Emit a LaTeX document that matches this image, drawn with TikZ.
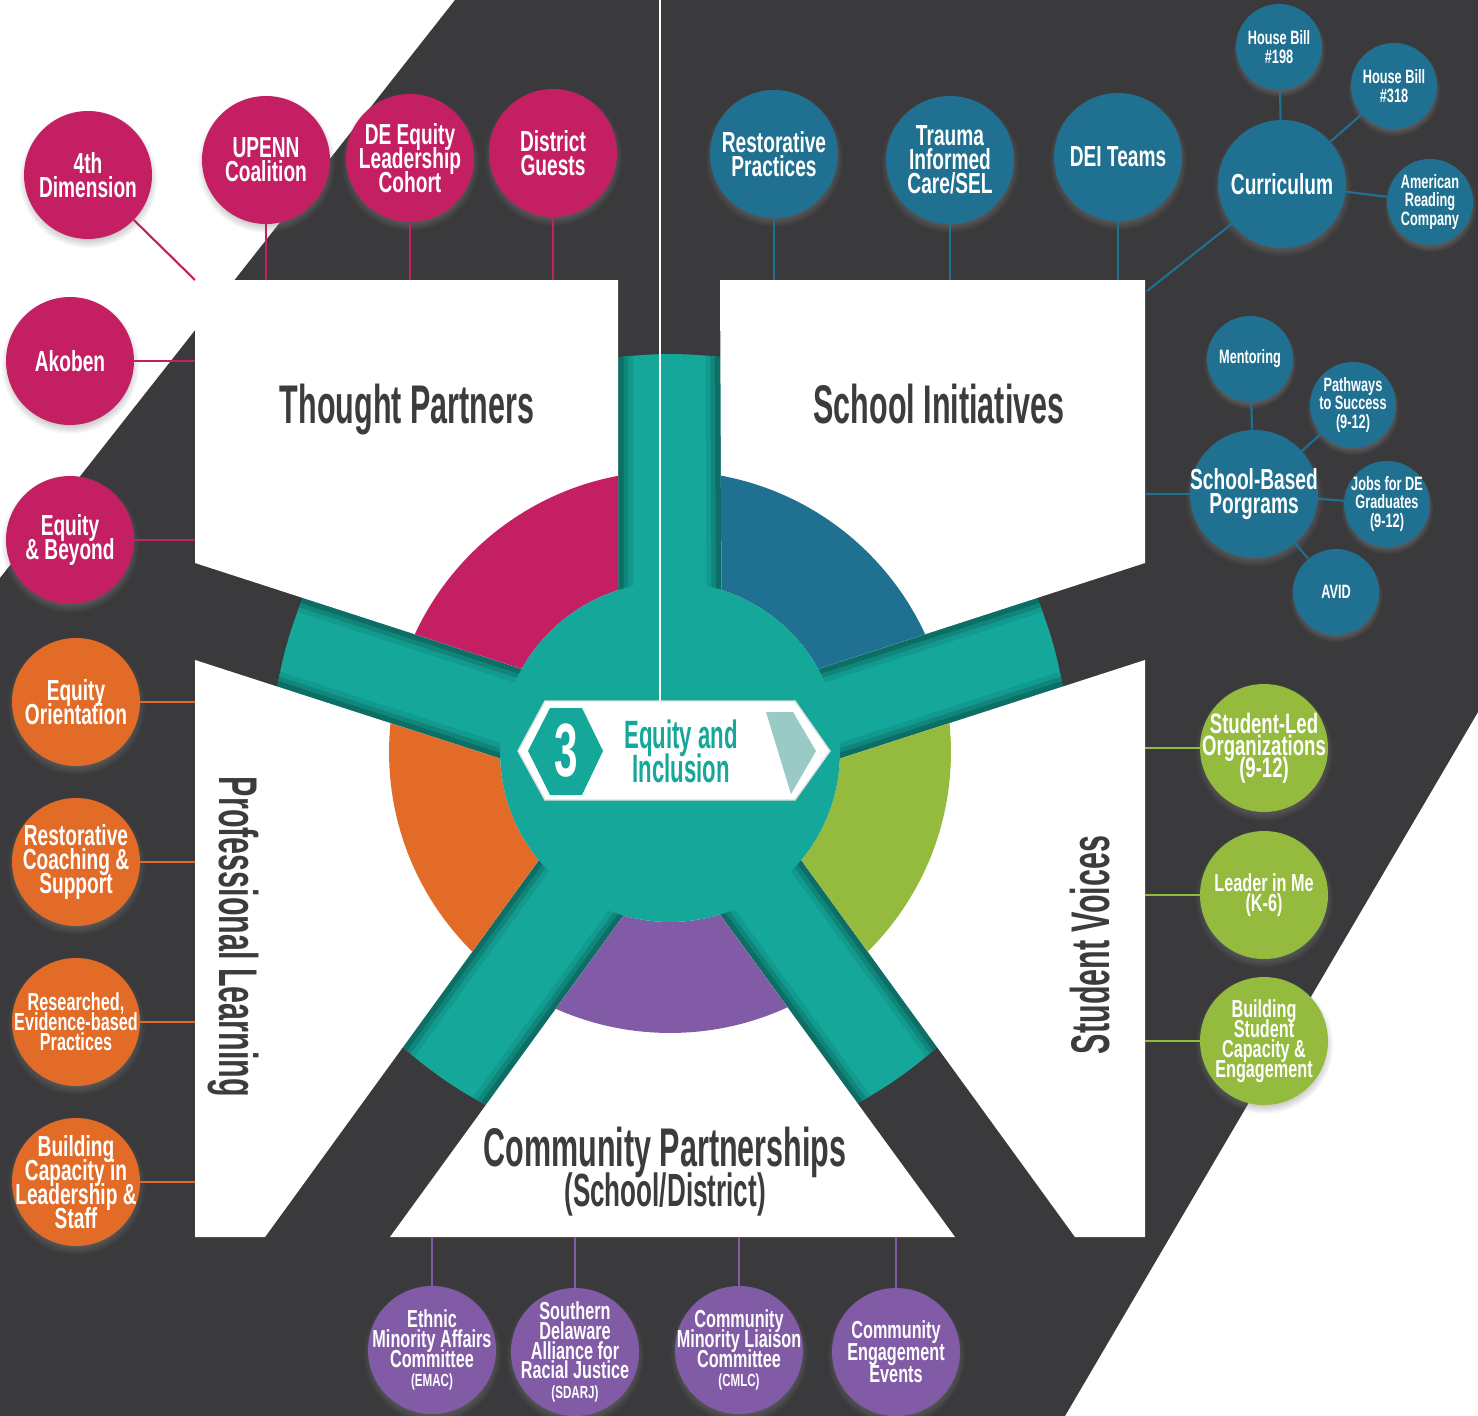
\documentclass[tikz,border=0pt]{standalone}
\usepackage{fontspec}
\newfontfamily\condA{Liberation Sans}[FakeStretch=0.66]
\newfontfamily\condB{Liberation Sans}[FakeStretch=0.56]
\newcommand\bubfont[2]{\condA\bfseries\fontsize{#1}{#2}\selectfont\lineskiplimit=-100pt}
\newcommand\headfont[2]{\condB\bfseries\fontsize{#1}{#2}\selectfont\lineskiplimit=-100pt}
\usetikzlibrary{shadows}
\definecolor{bgdark}{RGB}{58,58,60}
\definecolor{tpink}{RGB}{197,31,99}
\definecolor{tblue}{RGB}{31,112,145}
\definecolor{torange}{RGB}{226,107,39}
\definecolor{tgreen}{RGB}{148,186,62}
\definecolor{tpurple}{RGB}{130,91,166}
\definecolor{tteal}{RGB}{20,167,154}
\definecolor{paleteal}{RGB}{153,202,198}
\definecolor{txtgray}{RGB}{60,60,62}
\begin{document}
\begin{tikzpicture}
  [x=0.02cm,y=-0.02cm,
   bub/.style={circle,fill=#1,minimum size=2.56cm,inner sep=0pt,
     circular drop shadow={shadow xshift=0pt,shadow yshift=-2pt,shadow scale=1.08,opacity=.45}},
   sbub/.style={bub=#1,minimum size=1.72cm},
   btxt/.style={text=white,align=center,inner sep=0pt,font=\bubfont{16.5}{13.6}},
   mtxt/.style={btxt,font=\bubfont{14}{11.3}},
   stxt/.style={btxt,font=\bubfont{11}{10.6}},
   link/.style={draw=#1,line width=1.2pt},
   ptitle/.style={text=txtgray,inner sep=0pt,font=\headfont{31}{31}}]
  \useasboundingbox (0,0) rectangle (1478,1416);
  \fill[white] (0,0) rectangle (1478,1416);
  \fill[bgdark] (455,0) -- (1478,0) -- (1478,712) -- (1065,1416) -- (0,1416) -- (0,578) -- cycle;

  % wheel
  \coordinate (hub) at (670,752);
  \coordinate (tpNW) at (195,280);
  \coordinate (siNW) at (720,280);
  \coordinate (siNE) at (1145,280);
  \coordinate (plNW) at (195,660);
  \coordinate (svNE) at (1145,660);
  \coordinate (cpSW) at (390,1237);
  \coordinate (currlink) at (1147,291);
  \fill[tteal] (hub) circle (7.96cm);
  \foreach \shape/\col in {{(195,280) -- (618,280) -- (618,700) -- (195,563)}/tpink,
      {(720,280) -- (1145,280) -- (1145,563) -- (722,700)}/tblue,
      {(195,660) -- (591,788) -- (265,1237) -- (195,1237)}/torange,
      {(1145,660) -- (749,788) -- (1075,1237) -- (1145,1237)}/tgreen,
      {(390,1237) -- (672,849) -- (955,1237)}/tpurple}
  {
    \begin{scope}
      \clip (hub) circle (7.96cm);
      \foreach \lw/\c in {30/92,20/80,11/66}
        \draw[line width=\lw*0.02cm,tteal!\c!black] \shape -- cycle;
    \end{scope}
    \fill[white] \shape -- cycle;
    \begin{scope}
      \clip \shape -- cycle;
      \fill[\col,even odd rule] (hub) circle (5.62cm) (hub) circle (3.4cm);
    \end{scope}
  }
  \fill[tteal] (hub) circle (3.4cm);
  \draw[white,line width=1.2pt] (660,0) -- (660,701);

  % banner
  \fill[white,draw=black!12,line width=.8pt] (518,751) -- (545,701) -- (795,701) -- (830,751) -- (795,800) -- (545,800) -- cycle;
  \fill[tteal] (528,751) -- (550,708) -- (582,708) -- (603,751) -- (582,795) -- (550,795) -- cycle;
  \fill[paleteal] (766,712) -- (793,712) -- (816,751) -- (791,794) -- cycle;
  \node[text=white,font=\headfont{43}{43}] (three) at (566,751) {3};
  \node[text=tteal,align=center,font=\headfont{22.5}{19.5}] (eqinc) at (681,751) {Equity and\\Inclusion};

  % panel titles
  \node[ptitle,anchor=base] (tptitle) at (407,423) {Thought Partners};
  \node[ptitle,anchor=base] (sititle) at (939,423) {School Initiatives};
  \node[ptitle,rotate=-90] (pltitle) at (233,937) {Professional Learning};
  \node[ptitle,rotate=90] (svtitle) at (1090,945) {Student Voices};
  \node[ptitle,anchor=base] (cptitle) at (665,1166) {Community Partnerships};
  \node[ptitle,anchor=base,font=\headfont{26.5}{26.5}] (cpsub) at (665,1206) {(School/District)};

  % thought partners
  \node[bub=tpink,label={[btxt]center:{4th\\Dimension}}] (dim4) at (88,175) {};
  \node[bub=tpink,label={[btxt]center:{UPENN\\Coalition}}] (upenn) at (266,160) {};
  \node[bub=tpink,label={[btxt]center:{DE Equity\\Leadership\\Cohort}}] (deelc) at (410,158) {};
  \node[bub=tpink,label={[btxt]center:{District\\Guests}}] (guests) at (553,153) {};
  \node[bub=tpink,label={[btxt]center:{Akoben}}] (akoben) at (70,361) {};
  \node[bub=tpink,label={[btxt]center:{Equity\\\& Beyond}}] (beyond) at (70,540) {};

  % school initiatives
  \node[bub=tblue,label={[btxt]center:{Restorative\\Practices}}] (restpr) at (774,154) {};
  \node[bub=tblue,label={[btxt]center:{Trauma\\Informed\\Care/SEL}}] (trauma) at (950,160) {};
  \node[bub=tblue,label={[btxt]center:{DEI Teams}}] (deiteams) at (1118,157) {};
  \node[bub=tblue,label={[btxt]center:{Curriculum}}] (curric) at (1282,184) {};
  \node[sbub=tblue,label={[stxt]center:{House Bill\\\#198}}] (hb198) at (1279,47) {};
  \node[sbub=tblue,label={[stxt]center:{House Bill\\\#318}}] (hb318) at (1394,86) {};
  \node[sbub=tblue,label={[stxt]center:{American\\Reading\\Company}}] (arc) at (1430,202) {};
  \node[bub=tblue,label={[btxt]center:{School-Based\\Porgrams}}] (sbp) at (1254,494) {};
  \node[sbub=tblue,label={[stxt]center:{Mentoring}}] (mentor) at (1250,359) {};
  \node[sbub=tblue,label={[stxt]center:{Pathways\\to Success\\(9-12)}}] (pathw) at (1353,405) {};
  \node[sbub=tblue,label={[stxt]center:{Jobs for DE\\Graduates\\(9-12)}}] (jobs) at (1387,504) {};
  \node[sbub=tblue,label={[stxt]center:{AVID}}] (avid) at (1336,592) {};

  % professional learning
  \node[bub=torange,label={[btxt]center:{Equity\\Orientation}}] (eqorient) at (76,702) {};
  \node[bub=torange,label={[btxt]center:{Restorative\\Coaching \&\\Support}}] (coaching) at (76,862) {};
  \node[bub=torange,label={[mtxt]center:{Researched,\\Evidence-based\\Practices}}] (research) at (76,1022) {};
  \node[bub=torange,label={[btxt]center:{Building\\Capacity in\\Leadership \&\\Staff}}] (capacity) at (76,1182) {};

  % student voices
  \node[bub=tgreen,label={[btxt,font=\bubfont{16}{12.6}]center:{Student-Led\\Organizations\\(9-12)}}] (stled) at (1264,748) {};
  \node[bub=tgreen,label={[mtxt]center:{Leader in Me\\(K-6)}}] (leader) at (1264,895) {};
  \node[bub=tgreen,label={[mtxt]center:{Building\\Student\\Capacity \&\\Engagement}}] (stcap) at (1264,1041) {};

  % community partnerships
  \node[bub=tpurple,label={[mtxt]center:{Ethnic\\Minority Affairs\\Committee\\{\fontsize{10}{10}\selectfont(EMAC)}}}] (emac) at (432,1350) {};
  \node[bub=tpurple,label={[mtxt]center:{Southern\\Delaware\\Alliance for\\Racial Justice\\{\fontsize{10}{10}\selectfont(SDARJ)}}}] (sdarj) at (575,1352) {};
  \node[bub=tpurple,label={[mtxt]center:{Community\\Minority Liaison\\Committee\\{\fontsize{10}{10}\selectfont(CMLC)}}}] (cmlc) at (739,1350) {};
  \node[bub=tpurple,label={[mtxt,font=\bubfont{14}{12.5}]center:{Community\\Engagement\\Events}}] (events) at (896,1352) {};

  \foreach \from/\to in {dim4/tpNW,upenn/upenn |- tpNW,deelc/deelc |- tpNW,guests/guests |- tpNW,
      akoben/akoben -| tpNW,beyond/beyond -| tpNW}
    \draw[link=tpink] (\from) -- (\to);
  \foreach \from/\to in {restpr/restpr |- siNW,trauma/trauma |- siNW,deiteams/deiteams |- siNW,
      curric/currlink,hb198/curric,hb318/curric,arc/curric,
      sbp/sbp -| siNE,mentor/sbp,pathw/sbp,jobs/sbp,avid/sbp}
    \draw[link=tblue] (\from) -- (\to);
  \foreach \from in {eqorient,coaching,research,capacity}
    \draw[link=torange] (\from) -- (\from -| plNW);
  \foreach \from in {stled,leader,stcap}
    \draw[link=tgreen] (\from) -- (\from -| svNE);
  \foreach \from in {emac,sdarj,cmlc,events}
    \draw[link=tpurple] (\from) -- (\from |- cpSW);
\end{tikzpicture}
\end{document}
